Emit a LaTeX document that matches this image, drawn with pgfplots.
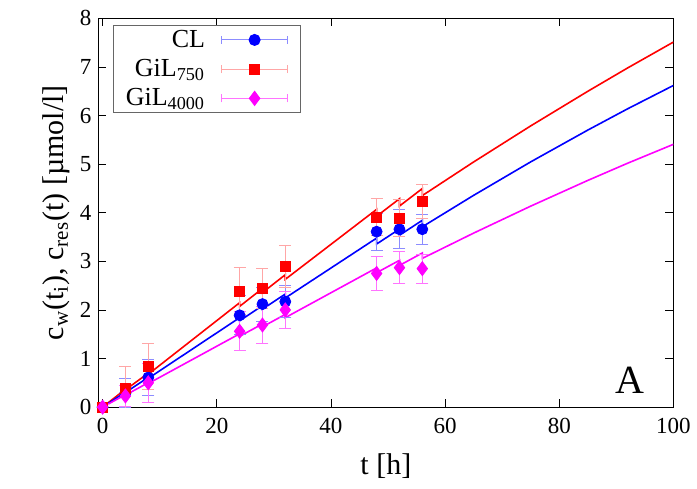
\documentclass[border=0pt]{standalone}
\usepackage{fontspec}
\setmainfont{Liberation Serif}
\usepackage{pgfplots}
\pgfplotsset{compat=1.18}
\definecolor{cblue}{RGB}{0,0,255}
\definecolor{cred}{RGB}{255,0,0}
\definecolor{cmag}{RGB}{255,0,255}
\begin{document}
\begin{tikzpicture}
\begin{axis}[
  at={(0,0)}, anchor=south west,
  scale only axis, width=287.5pt, height=194.35pt,
  xmin=-0.75, xmax=100, ymin=0, ymax=8,
  xtick={0,20,...,100}, ytick={0,1,...,8},
  tick align=inside, major tick length=4pt,
  tick style={black, line width=0.4pt},
  axis line style={black, line width=0.6pt},
  /pgf/number format/assume math mode=true,
  ticklabel style={font=\fontsize{11.5}{13}\selectfont},
  xticklabel style={yshift=-2pt},
  xlabel={t [h]}, ylabel={c\textsubscript{w}(t\textsubscript{i}), c\textsubscript{res}(t) [µmol/l]},
  label style={font=\fontsize{15}{18}\selectfont},
  xlabel style={yshift=-3pt},
  ylabel style={yshift=-2pt},
  legend cell align=right, legend plot pos=right,
  legend style={at={(0.026,0.982)}, anchor=north west, draw=black!60, line width=0.5pt,
    font=\fontsize{13}{15}\selectfont, row sep=0.5pt, inner xsep=4pt, inner ysep=0pt},
]
% model lines
\addplot[cred, line width=0.8pt, forget plot] coordinates {
(0,0) (4,0.368) (4,0.355) (8,0.70) (8,0.676) (24,2.148) (24,2.073) (28,2.441) (28,2.356)
(32,2.724) (32,2.629) (48,4.069) (48,3.927) (52,4.287) (52,4.137) (56,4.497) (56,4.352)
(65,5.045) (75,5.787) (85,6.499) (92,6.981) (100,7.512)};
\addplot[cblue, line width=0.8pt, forget plot] coordinates {
(0,0) (4,0.312) (4,0.301) (8,0.613) (8,0.592) (24,1.840) (24,1.776) (28,2.088) (28,2.015)
(32,2.327) (32,2.246) (48,3.478) (48,3.356) (52,3.664) (52,3.536) (56,3.844) (56,3.71)
(65,4.358) (75,5.047) (85,5.701) (92,6.14) (100,6.619)};
\addplot[cmag, line width=0.8pt, forget plot] coordinates {
(0,0) (4,0.256) (4,0.247) (8,0.503) (8,0.485) (24,1.509) (24,1.456) (28,1.712) (28,1.652)
(32,1.908) (32,1.841) (48,2.865) (48,2.765) (52,3.021) (52,2.915) (56,3.171) (56,3.06)
(65,3.581) (75,4.136) (85,4.665) (92,5.02) (100,5.408)};
% data
\addplot[only marks, mark=*, mark size=2.75pt, cblue,
  legend image code/.code={
    \path (0pt,0pt);
    \draw[cblue!45, line width=0.5pt] (6pt,0pt) -- (39pt,0pt) (6pt,-2pt) -- (6pt,2pt) (39pt,-2pt) -- (39pt,2pt);
    \fill[cblue] (22.5pt,0pt) circle (2.75pt);
    \path (41pt,0pt);},
  error bars/.cd, y dir=both, y explicit,
  error bar style={cblue!45, line width=0.5pt},
  error mark options={cblue!45, line width=0.5pt, mark size=3pt, rotate=90}]
  table[x=t, y=c, y error=e] {
t c e
0 0 0.05
4 0.29 0.30
8 0.61 0.37
24 1.89 0.40
28 2.12 0.35
32 2.17 0.33
48 3.61 0.38
52 3.66 0.40
56 3.66 0.31
};
\addlegendentry{CL}
\addplot[only marks, mark=square*, mark size=2.5pt, cred,
  legend image code/.code={
    \path (0pt,0pt);
    \draw[cred!35, line width=0.5pt] (6pt,0pt) -- (39pt,0pt) (6pt,-2pt) -- (6pt,2pt) (39pt,-2pt) -- (39pt,2pt);
    \fill[cred] (20pt,-2.5pt) rectangle (25pt,2.5pt);
    \path (41pt,0pt);},
  error bars/.cd, y dir=both, y explicit,
  error bar style={cred!35, line width=0.5pt},
  error mark options={cred!35, line width=0.5pt, mark size=3pt, rotate=90}]
  table[x=t, y=c, y error=e] {
t c e
0 0 0.05
4 0.38 0.46
8 0.83 0.47
24 2.39 0.48
28 2.44 0.41
32 2.89 0.43
48 3.91 0.38
52 3.89 0.38
56 4.24 0.35
};
\addlegendentry{GiL\textsubscript{750}}
\addplot[only marks, mark=diamond*, mark size=3.5pt, cmag,
  legend image code/.code={
    \path (0pt,0pt);
    \draw[cmag!55, line width=0.5pt] (6pt,0pt) -- (39pt,0pt) (6pt,-2pt) -- (6pt,2pt) (39pt,-2pt) -- (39pt,2pt);
    \fill[cmag] (22.5pt,3.5pt) -- (25.1pt,0pt) -- (22.5pt,-3.5pt) -- (19.9pt,0pt) -- cycle;
    \path (41pt,0pt);},
  error bars/.cd, y dir=both, y explicit,
  error bar style={cmag!55, line width=0.5pt},
  error mark options={cmag!55, line width=0.5pt, mark size=3pt, rotate=90}]
  table[x=t, y=c, y error=e] {
t c e
0 0 0.05
4 0.23 0.22
8 0.50 0.40
24 1.56 0.40
28 1.69 0.38
32 2.00 0.38
48 2.75 0.35
52 2.87 0.33
56 2.85 0.30
};
\addlegendentry{GiL\textsubscript{4000}}
\node[font=\fontsize{20}{24}\selectfont] at (axis cs:92.4,0.55) {A};
\end{axis}
\pgfresetboundingbox
\useasboundingbox (-49.15pt,-40.5pt) rectangle (299.25pt,203.5pt);
\end{tikzpicture}
\end{document}
